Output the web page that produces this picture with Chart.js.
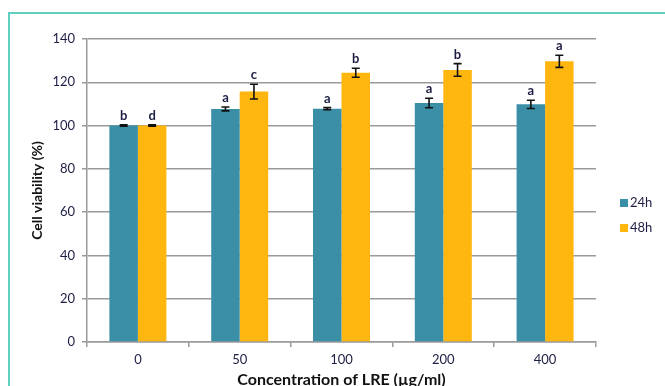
<!DOCTYPE html>
<html>
<head>
<meta charset="utf-8">
<script src="https://cdn.jsdelivr.net/npm/chart.js@4"></script>
<style>
  html, body { margin: 0; padding: 0; background: #fff; }
  #wrap { position: relative; width: 665px; height: 386px; overflow: hidden; }
  #frame { position: absolute; left: 8px; top: 12px; right: -2px; bottom: -2px;
           border-top: 2px solid #5fd0bf; border-left: 2px solid #5fd0bf; pointer-events: none; }
  canvas { position: absolute; left: 0; top: 0; }
</style>
</head>
<body>
<div id="wrap">
  <canvas id="c" width="665" height="386"></canvas>
  <div id="frame"></div>
</div>
<script>
// Concentrations of LRE (µg/ml)
const categories = ['0', '50', '100', '200', '400'];

// Mean cell viability (%) and standard deviations
const viability24h = [100, 107.7, 107.8, 110.4, 109.8];
const viability48h = [100, 115.7, 124.4, 125.7, 129.7];
const sd24h = [0.3, 0.9, 0.5, 2.2, 1.9];
const sd48h = [0.3, 3.4, 2.1, 2.9, 2.8];

// Significance letters above each bar
const letters24h = ['b', 'a', 'a', 'a', 'a'];
const letters48h = ['d', 'c', 'b', 'b', 'a'];

const seriesLabels = ['24h', '48h'];
const TEAL = '#3a8fa7';
const GOLD = '#ffb710';
const INK = '#1c1e44';
const FONT = 'Lato, "Open Sans", sans-serif';

// Error bars, significance letters and a side legend
const annotate = {
  id: 'annotate',
  afterDatasetsDraw(chart) {
    const { ctx } = chart;
    const y = chart.scales.y;
    const sds = [sd24h, sd48h];
    const letters = [letters24h, letters48h];
    chart.data.datasets.forEach((ds, di) => {
      const meta = chart.getDatasetMeta(di);
      meta.data.forEach((bar, i) => {
        const v = ds.data[i];
        const e = sds[di][i];
        const yTop = y.getPixelForValue(v + e);
        const yBot = y.getPixelForValue(v - e);
        const x = bar.x;
        ctx.save();
        ctx.strokeStyle = '#111';
        ctx.lineWidth = 1.6;
        ctx.beginPath();
        ctx.moveTo(x, yTop); ctx.lineTo(x, yBot);
        ctx.moveTo(x - 4, yTop); ctx.lineTo(x + 4, yTop);
        ctx.moveTo(x - 4, yBot); ctx.lineTo(x + 4, yBot);
        ctx.stroke();
        ctx.fillStyle = INK;
        ctx.font = 'bold 13px ' + FONT;
        ctx.textAlign = 'center';
        ctx.textBaseline = 'alphabetic';
        ctx.fillText(letters[di][i], x, Math.min(yTop, bar.y) - 5);
        ctx.restore();
      });
    });
    // legend
    const lx = 620, ly = [203, 228];
    chart.data.datasets.forEach((ds, di) => {
      ctx.save();
      ctx.fillStyle = ds.backgroundColor;
      ctx.fillRect(lx, ly[di] - 4, 8, 8);
      ctx.fillStyle = INK;
      ctx.font = '13px ' + FONT;
      ctx.textAlign = 'left';
      ctx.textBaseline = 'middle';
      ctx.fillText(ds.label, lx + 10, ly[di]);
      ctx.restore();
    });
  }
};

new Chart(document.getElementById('c'), {
  type: 'bar',
  data: {
    labels: categories,
    datasets: [
      { label: seriesLabels[0], data: viability24h, backgroundColor: TEAL },
      { label: seriesLabels[1], data: viability48h, backgroundColor: GOLD }
    ]
  },
  options: {
    responsive: false,
    animation: false,
    devicePixelRatio: 1,
    layout: { padding: { left: 0, top: 39, right: 69, bottom: 0 } },
    datasets: { bar: { barPercentage: 1.0, categoryPercentage: 0.56 } },
    plugins: { legend: { display: false }, tooltip: { enabled: false } },
    scales: {
      x: {
        afterFit(s) { s.height = 44; },
        grid: { display: true, drawOnChartArea: false, drawTicks: true, tickLength: 5, color: '#9a9a9a', lineWidth: 1.5 },
        border: { display: true, color: '#9a9a9a', width: 1.5 },
        ticks: { color: INK, font: { family: FONT, size: 13 }, padding: 5 },
        title: {
          display: true,
          text: 'Concentration of LRE (µg/ml)',
          color: '#111',
          font: { family: FONT, size: 16, weight: 'bold' },
          padding: { top: 0, bottom: -3 }
        }
      },
      y: {
        min: 0, max: 140,
        afterFit(s) { s.width = 87; },
        grid: { color: '#9a9a9a', lineWidth: 1.5, tickLength: 5 },
        border: { display: true, color: '#9a9a9a', width: 1.5 },
        ticks: { stepSize: 20, color: INK, font: { family: FONT, size: 13 }, padding: 7 },
        title: {
          display: true,
          text: 'Cell viability (%)',
          color: '#111',
          font: { family: FONT, size: 14, weight: 'bold' },
          padding: { top: 29, bottom: 0 }
        }
      }
    }
  },
  plugins: [annotate]
});
</script>
</body>
</html>
